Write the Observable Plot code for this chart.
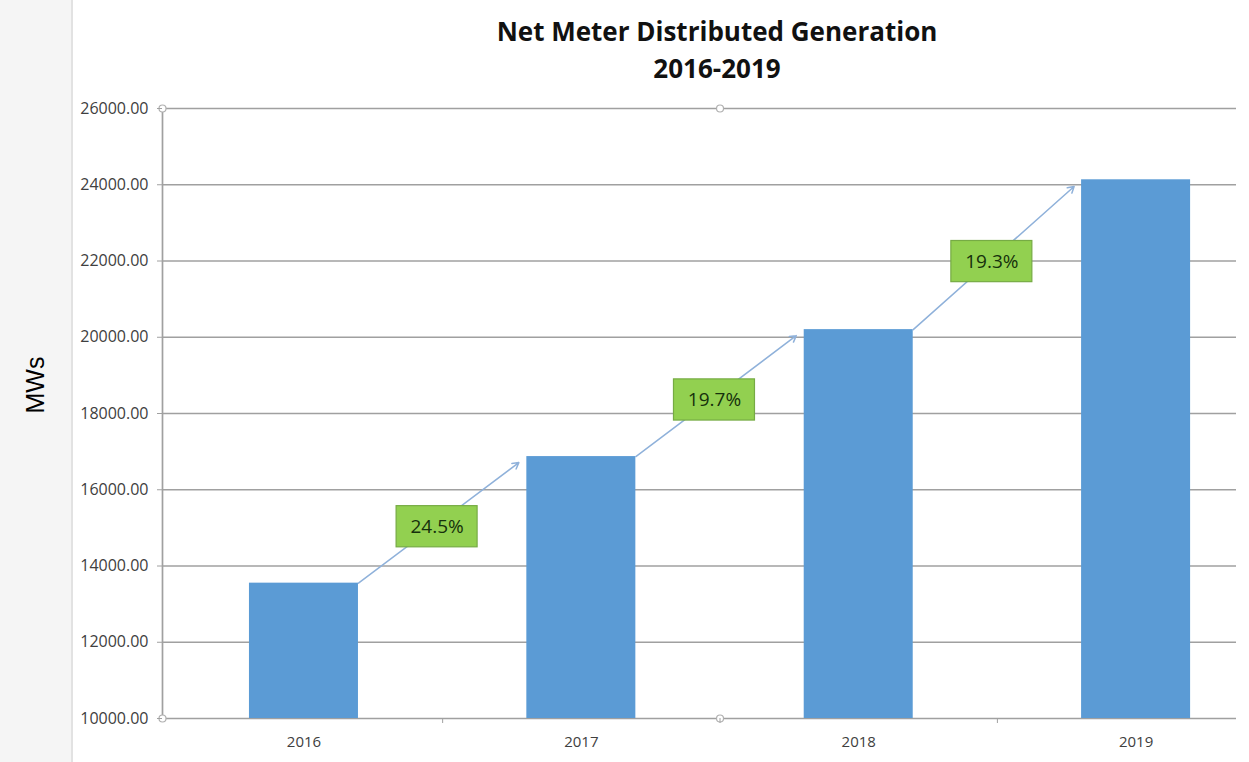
<!DOCTYPE html>
<html>
<head>
<meta charset="utf-8">
<script src="https://cdn.jsdelivr.net/npm/d3@7"></script>
<script src="https://cdn.jsdelivr.net/npm/@observablehq/plot@0.6"></script>
<style>
  body { margin: 0; background: #fff; }
  #wrap { position: relative; width: 1249px; height: 762px; overflow: hidden; font-family: "Open Sans", sans-serif; background: #fff; }
  #bg { position: absolute; left: 0; top: 0; width: 71px; height: 762px; background: #f5f5f5; border-right: 2px solid #e2e2e2; z-index: 0; }
  #chart { position: absolute; left: 0; top: 0; z-index: 1; }
  #title { position: absolute; left: 200px; width: 1034px; top: 13px; text-align: center; font-family: "Open Sans", sans-serif; font-weight: 700; font-size: 26px; line-height: 37px; color: #111; z-index: 2; }
  #ylab { position: absolute; left: 35px; top: 385px; transform: translate(-50%, -50%) rotate(-90deg); font-family: "Liberation Sans", Arial, sans-serif; font-size: 25px; color: #000; white-space: nowrap; z-index: 2; }
</style>
</head>
<body>
<div id="wrap">
  <div id="bg"></div>
  <div id="chart"></div>
  <div id="title">Net Meter Distributed Generation<br>2016-2019</div>
  <div id="ylab">MWs</div>
</div>
<script>
// ---- data ----
const years = ["2016", "2017", "2018", "2019"];
const values = [13550, 16870, 20200, 24130];
const growthLabels = ["24.5%", "19.7%", "19.3%"];
const yTicks = [10000, 12000, 14000, 16000, 18000, 20000, 22000, 24000, 26000];

// ---- derived tables ----
const bars = years.map((y, i) => ({i, year: y, value: values[i]}));
const segs = growthLabels.map((t, i) => ({i, label: t, from: values[i], to: values[i + 1]}));

const hw = 0.1965;          // half bar width in band units
const bw = 0.146;           // half label box width
const bh = 540;             // half label box height (value units)
const yMin = yTicks[0], yMax = yTicks[yTicks.length - 1];

const chart = Plot.plot({
  width: 1249,
  height: 762,
  marginTop: 108,
  marginBottom: 44,
  marginLeft: 162,
  marginRight: 13,
  style: {background: "transparent", fontFamily: "'Open Sans', sans-serif"},
  x: {type: "linear", domain: [-0.51, 3.362]},
  y: {domain: [yMin, yMax]},
  marks: [
    Plot.ruleY(yTicks, {stroke: "#a0a0a0", strokeWidth: 1.7}),
    Plot.ruleX([-0.51], {y1: yMin, y2: yMax, stroke: "#a0a0a0", strokeWidth: 1.7}),
    Plot.rect(bars, {x1: d => d.i - hw, x2: d => d.i + hw, y1: yMin, y2: d => d.value, fill: "#5b9bd5"}),
    Plot.arrow(segs, {
      x1: d => d.i + hw, y1: d => d.from,
      x2: d => d.i + 1 - hw, y2: d => d.to,
      stroke: "#8fb1da", strokeWidth: 1.5, headLength: 7, insetEnd: 10, bend: false
    }),
    Plot.rect(segs, {
      x1: d => d.i + 0.48 - bw, x2: d => d.i + 0.48 + bw,
      y1: d => (d.from + d.to) / 2 - 180 - bh, y2: d => (d.from + d.to) / 2 - 180 + bh,
      fill: "#92d050", stroke: "#76ab44", strokeWidth: 1.2
    }),
    Plot.text(segs, {x: d => d.i + 0.48, y: d => (d.from + d.to) / 2 - 180, text: "label", fontSize: 19, fill: "#16300c"}),
    Plot.dot([{x: -0.51, y: yMax}, {x: 1.5, y: yMax}, {x: -0.51, y: yMin}, {x: 1.5, y: yMin}],
      {x: "x", y: "y", r: 3.5, fill: "white", stroke: "#b0b0b0", strokeWidth: 1.2}),
    Plot.axisY({ticks: yTicks, tickFormat: d => d.toFixed(2), tickSize: 5, tickPadding: 9, fontSize: 16, color: "#404040", label: null, stroke: "#a0a0a0"}),
    Plot.axisX({ticks: [0, 1, 2, 3], tickFormat: i => years[i], tickSize: 0, tickPadding: 18, fontSize: 15, color: "#404040", label: null}),
    Plot.axisX({ticks: [0.5, 1.5, 2.5], tickFormat: () => "", tickSize: 5, stroke: "#a0a0a0", label: null})
  ]
});
document.getElementById("chart").appendChild(chart);
</script>
</body>
</html>
